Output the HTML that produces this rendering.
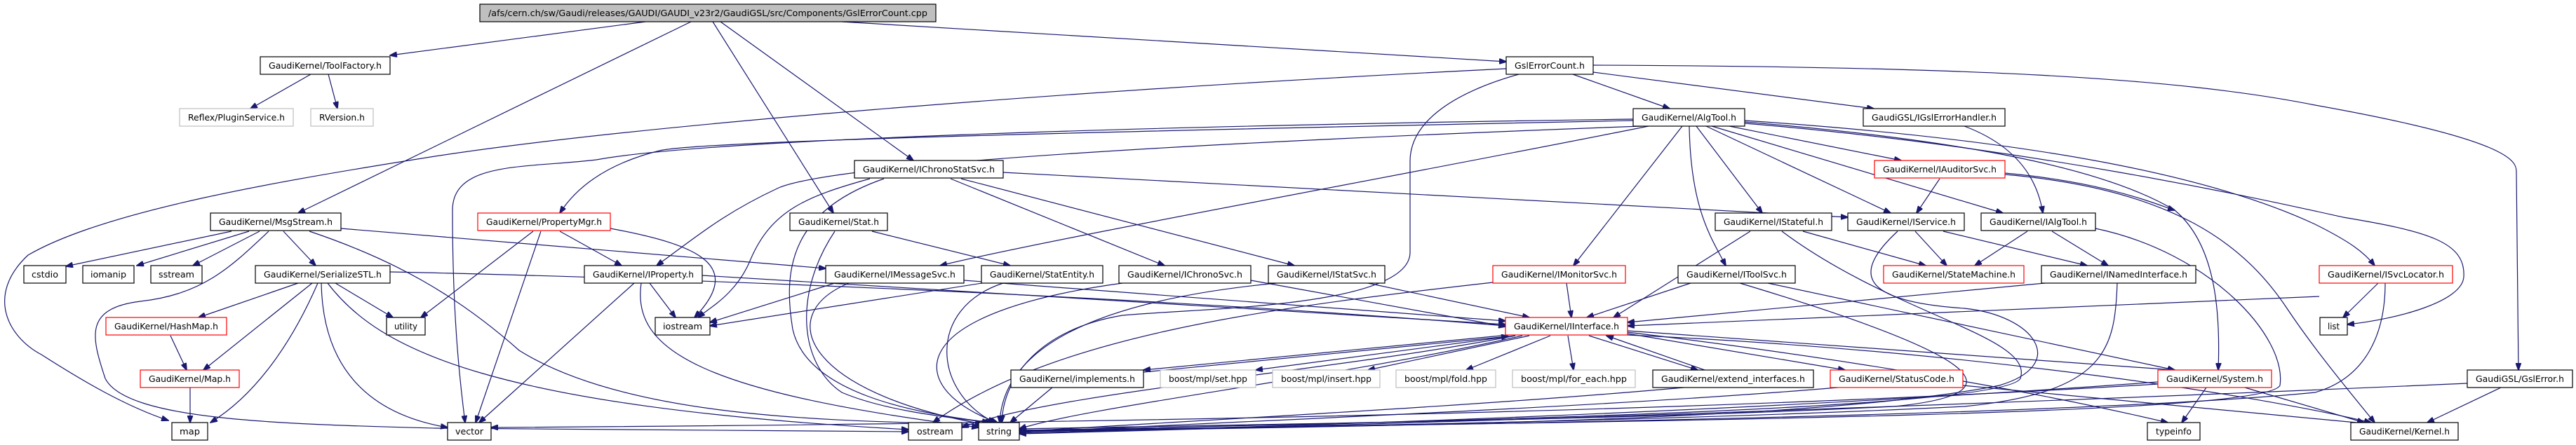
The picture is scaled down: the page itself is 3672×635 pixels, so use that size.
<!DOCTYPE html>
<html><head><meta charset="utf-8"><style>
html,body{margin:0;padding:0;background:#fff;}
svg{display:block;}
.e{fill:none;stroke:#191970;stroke-width:1.2;marker-end:url(#a);}
.n rect{fill:#fff;stroke:#000;stroke-width:1.2;}
.r rect{fill:#fff;stroke:#ff0000;stroke-width:1.2;}
.g rect{fill:#fff;stroke:#bfbfbf;stroke-width:1.2;}
.t rect{fill:#bfbfbf;stroke:#000;stroke-width:1.2;}
text{font-family:"DejaVu Sans","Liberation Sans",sans-serif;font-size:12px;fill:#000;text-anchor:middle;}
</style></head><body>
<svg width="3672" height="635" viewBox="0 0 3672 635" xmlns="http://www.w3.org/2000/svg">
<defs><marker id="a" markerUnits="userSpaceOnUse" markerWidth="11" markerHeight="8" refX="10" refY="4" orient="auto"><path d="M0,0 L11,4 L0,8 z" fill="#191970" stroke="#191970"/></marker></defs>
<g>
<path class="e" d="M920,31 L556,79"/>
<path class="e" d="M985,31 L425,304"/>
<path class="e" d="M1016,31 L1188,304"/>
<path class="e" d="M1027,31 L1302,229"/>
<path class="e" d="M1200,31 L2147,88"/>
<path class="e" d="M443,106 L357,155"/>
<path class="e" d="M468,106 L481,155"/>
<path class="e" d="M2242,106 L2380,155"/>
<path class="e" d="M2271,103 L2671,155"/>
<path class="e" d="M2271,93 C2800,95 3100,110 3300,150 C3580,200 3587,230 3587,245 L3590,528"/>
<path class="e" d="M2147,98 C1500,130 900,180 620,223 C400,258 150,300 40,364 C-20,420 10,480 59,506 C120,545 180,580 240,600"/>
<path class="e" d="M2165,106 C2080,130 2010,170 2010,230 L2010,360 C2010,440 1700,440 1600,450 C1480,470 1430,540 1428,603"/>
<path class="e" d="M2328,170 C1600,180 1000,200 850,228 C750,240 645,230 645,300 C645,450 655,540 663,603"/>
<path class="e" d="M2328,172 C1700,185 1000,200 940,215 C860,235 820,270 798,304"/>
<path class="e" d="M2340,180 C1800,200 1200,230 1110,268 C1030,305 990,340 936,379"/>
<path class="e" d="M2350,180 C2000,250 1500,340 1340,379"/>
<path class="e" d="M2398,180 L2243,379"/>
<path class="e" d="M2408,180 C2410,300 2440,340 2460,379"/>
<path class="e" d="M2418,180 L2512,304"/>
<path class="e" d="M2432,180 L2695,304"/>
<path class="e" d="M2440,180 L2855,304"/>
<path class="e" d="M2465,180 L2710,229"/>
<path class="e" d="M2487,172 C2900,200 3150,250 3300,320 C3350,345 3370,360 3385,379"/>
<path class="e" d="M2487,176 C2900,210 3250,290 3340,310 C3460,330 3515,345 3512,395 C3510,430 3420,455 3346,463"/>
<path class="e" d="M2487,174 C2800,200 3000,240 3100,300 C3160,350 3165,450 3162,528"/>
<path class="e" d="M2800,180 C2880,210 2905,260 2912,304"/>
<path class="e" d="M2765,255 L2732,304"/>
<path class="e" d="M2858,247 C3000,260 3070,290 3100,300"/>
<path class="e" d="M2858,249 C3100,270 3200,350 3260,440 C3300,500 3350,560 3385,603"/>
<path class="e" d="M1430,246 L2634,310"/>
<path class="e" d="M1355,255 L1660,379"/>
<path class="e" d="M1370,255 L1845,379"/>
<path class="e" d="M1240,255 C1150,280 1100,300 1070,370 C1050,420 1010,440 995,453"/>
<path class="e" d="M1260,255 C1130,300 1115,380 1130,470 C1150,560 1300,590 1415,603"/>
<path class="e" d="M1243,330 L1440,379"/>
<path class="e" d="M1190,330 C1130,420 1140,520 1200,560 C1270,590 1380,598 1410,603"/>
<path class="e" d="M330,330 L94,380"/>
<path class="e" d="M355,330 L195,379"/>
<path class="e" d="M370,330 L275,379"/>
<path class="e" d="M404,330 L450,379"/>
<path class="e" d="M486,326 L1177,383"/>
<path class="e" d="M441,330 C560,370 650,420 740,500 C900,600 1200,600 1400,606"/>
<path class="e" d="M383,330 C330,380 290,420 200,430 C120,440 130,480 150,540 C180,600 400,605 620,611 L1295,616"/>
<path class="e" d="M425,404 L283,453"/>
<path class="e" d="M445,404 L290,528"/>
<path class="e" d="M453,404 C420,480 370,560 300,603"/>
<path class="e" d="M478,404 L560,453"/>
<path class="e" d="M458,404 C460,520 520,590 638,610"/>
<path class="e" d="M467,404 C540,500 700,580 1295,613"/>
<path class="e" d="M556,388 C900,395 1600,420 2146,465"/>
<path class="e" d="M243,479 L266,528"/>
<path class="e" d="M271,553 L271,603"/>
<path class="e" d="M760,330 L600,453"/>
<path class="e" d="M771,330 L678,603"/>
<path class="e" d="M798,330 L886,379"/>
<path class="e" d="M870,326 C1000,350 1060,380 990,453"/>
<path class="e" d="M904,404 L683,603"/>
<path class="e" d="M926,404 L963,453"/>
<path class="e" d="M914,404 C900,500 1000,560 1395,610"/>
<path class="e" d="M1001,393 L2146,463"/>
<path class="e" d="M1190,404 L1012,460"/>
<path class="e" d="M1374,400 L2146,458"/>
<path class="e" d="M1210,404 C1100,450 1150,560 1400,605"/>
<path class="e" d="M1400,404 L1012,465"/>
<path class="e" d="M1430,404 C1320,440 1330,560 1418,603"/>
<path class="e" d="M1783,400 L2146,466"/>
<path class="e" d="M1600,404 C1265,450 1300,560 1422,603"/>
<path class="e" d="M1950,404 L2180,453"/>
<path class="e" d="M1820,404 C1550,430 1430,500 1425,603"/>
<path class="e" d="M2233,404 L2240,453"/>
<path class="e" d="M2128,403 C1800,440 1500,480 1330,603"/>
<path class="e" d="M2410,404 L2262,453"/>
<path class="e" d="M2520,404 L3100,528"/>
<path class="e" d="M2480,404 C2800,500 2900,560 2700,580 C2300,600 1800,605 1453,612"/>
<path class="e" d="M2495,330 L2300,453"/>
<path class="e" d="M2570,330 L2745,379"/>
<path class="e" d="M2540,330 C2700,450 2900,480 2880,540 C2860,580 2200,600 1453,614"/>
<path class="e" d="M2730,330 L2775,379"/>
<path class="e" d="M2770,330 L2975,379"/>
<path class="e" d="M2705,330 C2640,390 2650,430 2800,440 C2900,450 2950,520 2850,550 C2600,600 2000,608 1453,616"/>
<path class="e" d="M2890,330 L2815,379"/>
<path class="e" d="M2925,330 L3005,379"/>
<path class="e" d="M2987,326 C3150,360 3260,480 3250,550 C3230,590 2500,600 1453,614"/>
<path class="e" d="M2915,404 L2320,460"/>
<path class="e" d="M3018,404 C3015,500 3000,560 2800,580 C2400,600 1900,608 1453,616"/>
<path class="e" d="M3390,404 L3340,453"/>
<path class="e" d="M3306,423 L2320,465"/>
<path class="e" d="M3400,404 C3400,480 3370,540 3300,560 C3000,590 2200,605 1453,615"/>
<path class="e" d="M2150,478 L1630,528"/>
<path class="e" d="M1630,531 L2150,480"/>
<path class="e" d="M2160,479 L1790,528"/>
<path class="e" d="M2180,479 L1950,528"/>
<path class="e" d="M2210,479 L2090,528"/>
<path class="e" d="M2235,479 L2243,528"/>
<path class="e" d="M2265,479 L2420,528"/>
<path class="e" d="M2430,528 L2290,479"/>
<path class="e" d="M2320,476 L2630,528"/>
<path class="e" d="M2320,472 L3100,528"/>
<path class="e" d="M2320,474 C2700,520 2950,570 3090,603"/>
<path class="e" d="M2320,478 C2800,500 3200,560 3380,603"/>
<path class="e" d="M2160,479 C1900,530 1500,560 1371,610"/>
<path class="e" d="M2170,479 C1900,540 1550,580 1453,612"/>
<path class="e" d="M2798,550 L3380,605"/>
<path class="e" d="M2620,553 C2300,580 1800,600 1453,617"/>
<path class="e" d="M3145,553 L3110,603"/>
<path class="e" d="M3200,553 L3370,603"/>
<path class="e" d="M3076,545 C2600,580 2000,605 1453,618"/>
<path class="e" d="M3076,548 C2400,590 1500,605 700,610"/>
<path class="e" d="M3565,553 L3460,603"/>
<path class="e" d="M3517,547 C3000,570 2200,600 1453,619"/>
<path class="e" d="M2400,553 C2100,580 1700,600 1453,616"/>
<path class="e" d="M1500,553 L1440,603"/>
</g>
<g class="t"><rect x="684" y="6" width="650" height="25"/><text x="1009" y="23" textLength="626" lengthAdjust="spacingAndGlyphs">/afs/cern.ch/sw/Gaudi/releases/GAUDI/GAUDI_v23r2/GaudiGSL/src/Components/GslErrorCount.cpp</text></g>
<g class="n"><rect x="371" y="81" width="185" height="25"/><text x="463.5" y="98" textLength="161" lengthAdjust="spacingAndGlyphs">GaudiKernel/ToolFactory.h</text></g>
<g class="n"><rect x="2147" y="81" width="124" height="25"/><text x="2209" y="98" textLength="100" lengthAdjust="spacingAndGlyphs">GslErrorCount.h</text></g>
<g class="g"><rect x="256" y="155" width="162" height="25"/><text x="337" y="172" textLength="138" lengthAdjust="spacingAndGlyphs">Reflex/PluginService.h</text></g>
<g class="g"><rect x="443" y="155" width="89" height="25"/><text x="487.5" y="172" textLength="65" lengthAdjust="spacingAndGlyphs">RVersion.h</text></g>
<g class="n"><rect x="2328" y="155" width="159" height="25"/><text x="2407.5" y="172" textLength="135" lengthAdjust="spacingAndGlyphs">GaudiKernel/AlgTool.h</text></g>
<g class="n"><rect x="2656" y="155" width="202" height="25"/><text x="2757" y="172" textLength="178" lengthAdjust="spacingAndGlyphs">GaudiGSL/IGslErrorHandler.h</text></g>
<g class="n"><rect x="1218" y="229" width="212" height="25"/><text x="1324" y="246" textLength="188" lengthAdjust="spacingAndGlyphs">GaudiKernel/IChronoStatSvc.h</text></g>
<g class="r"><rect x="2672" y="229" width="186" height="25"/><text x="2765" y="246" textLength="162" lengthAdjust="spacingAndGlyphs">GaudiKernel/IAuditorSvc.h</text></g>
<g class="n"><rect x="300" y="304" width="186" height="25"/><text x="393" y="321" textLength="162" lengthAdjust="spacingAndGlyphs">GaudiKernel/MsgStream.h</text></g>
<g class="r"><rect x="681" y="304" width="189" height="25"/><text x="775.5" y="321" textLength="165" lengthAdjust="spacingAndGlyphs">GaudiKernel/PropertyMgr.h</text></g>
<g class="n"><rect x="1126" y="304" width="139" height="25"/><text x="1195.5" y="321" textLength="115" lengthAdjust="spacingAndGlyphs">GaudiKernel/Stat.h</text></g>
<g class="n"><rect x="2445" y="304" width="166" height="25"/><text x="2528" y="321" textLength="142" lengthAdjust="spacingAndGlyphs">GaudiKernel/IStateful.h</text></g>
<g class="n"><rect x="2634" y="304" width="166" height="25"/><text x="2717" y="321" textLength="142" lengthAdjust="spacingAndGlyphs">GaudiKernel/IService.h</text></g>
<g class="n"><rect x="2824" y="304" width="163" height="25"/><text x="2905.5" y="321" textLength="139" lengthAdjust="spacingAndGlyphs">GaudiKernel/IAlgTool.h</text></g>
<g class="n"><rect x="34" y="379" width="60" height="25"/><text x="64" y="396" textLength="38" lengthAdjust="spacingAndGlyphs">cstdio</text></g>
<g class="n"><rect x="118" y="379" width="73" height="25"/><text x="154.5" y="396" textLength="51" lengthAdjust="spacingAndGlyphs">iomanip</text></g>
<g class="n"><rect x="215" y="379" width="73" height="25"/><text x="251.5" y="396" textLength="51" lengthAdjust="spacingAndGlyphs">sstream</text></g>
<g class="n"><rect x="364" y="379" width="192" height="25"/><text x="460" y="396" textLength="168" lengthAdjust="spacingAndGlyphs">GaudiKernel/SerializeSTL.h</text></g>
<g class="n"><rect x="833" y="379" width="168" height="25"/><text x="917" y="396" textLength="144" lengthAdjust="spacingAndGlyphs">GaudiKernel/IProperty.h</text></g>
<g class="n"><rect x="1177" y="379" width="197" height="25"/><text x="1275.5" y="396" textLength="173" lengthAdjust="spacingAndGlyphs">GaudiKernel/IMessageSvc.h</text></g>
<g class="n"><rect x="1399" y="379" width="173" height="25"/><text x="1485.5" y="396" textLength="149" lengthAdjust="spacingAndGlyphs">GaudiKernel/StatEntity.h</text></g>
<g class="n"><rect x="1595" y="379" width="188" height="25"/><text x="1689" y="396" textLength="164" lengthAdjust="spacingAndGlyphs">GaudiKernel/IChronoSvc.h</text></g>
<g class="n"><rect x="1808" y="379" width="166" height="25"/><text x="1891" y="396" textLength="142" lengthAdjust="spacingAndGlyphs">GaudiKernel/IStatSvc.h</text></g>
<g class="r"><rect x="2128" y="379" width="189" height="25"/><text x="2222.5" y="396" textLength="165" lengthAdjust="spacingAndGlyphs">GaudiKernel/IMonitorSvc.h</text></g>
<g class="n"><rect x="2392" y="379" width="167" height="25"/><text x="2475.5" y="396" textLength="143" lengthAdjust="spacingAndGlyphs">GaudiKernel/IToolSvc.h</text></g>
<g class="r"><rect x="2685" y="379" width="200" height="25"/><text x="2785" y="396" textLength="176" lengthAdjust="spacingAndGlyphs">GaudiKernel/StateMachine.h</text></g>
<g class="n"><rect x="2910" y="379" width="220" height="25"/><text x="3020" y="396" textLength="196" lengthAdjust="spacingAndGlyphs">GaudiKernel/INamedInterface.h</text></g>
<g class="r"><rect x="3306" y="379" width="190" height="25"/><text x="3401" y="396" textLength="166" lengthAdjust="spacingAndGlyphs">GaudiKernel/ISvcLocator.h</text></g>
<g class="r"><rect x="151" y="453" width="172" height="25"/><text x="237" y="470" textLength="148" lengthAdjust="spacingAndGlyphs">GaudiKernel/HashMap.h</text></g>
<g class="n"><rect x="551" y="453" width="55" height="25"/><text x="578.5" y="470" textLength="33" lengthAdjust="spacingAndGlyphs">utility</text></g>
<g class="n"><rect x="934" y="453" width="78" height="25"/><text x="973" y="470" textLength="56" lengthAdjust="spacingAndGlyphs">iostream</text></g>
<g class="r"><rect x="2146" y="453" width="174" height="25"/><text x="2233" y="470" textLength="150" lengthAdjust="spacingAndGlyphs">GaudiKernel/IInterface.h</text></g>
<g class="n"><rect x="3307" y="453" width="39" height="25"/><text x="3326.5" y="470" textLength="17" lengthAdjust="spacingAndGlyphs">list</text></g>
<g class="r"><rect x="200" y="528" width="141" height="25"/><text x="270.5" y="545" textLength="117" lengthAdjust="spacingAndGlyphs">GaudiKernel/Map.h</text></g>
<g class="n"><rect x="1441" y="528" width="189" height="25"/><text x="1535.5" y="545" textLength="165" lengthAdjust="spacingAndGlyphs">GaudiKernel/implements.h</text></g>
<g class="g"><rect x="1654" y="528" width="136" height="25"/><text x="1722" y="545" textLength="112" lengthAdjust="spacingAndGlyphs">boost/mpl/set.hpp</text></g>
<g class="g"><rect x="1814" y="528" width="153" height="25"/><text x="1890.5" y="545" textLength="129" lengthAdjust="spacingAndGlyphs">boost/mpl/insert.hpp</text></g>
<g class="g"><rect x="1990" y="528" width="142" height="25"/><text x="2061" y="545" textLength="118" lengthAdjust="spacingAndGlyphs">boost/mpl/fold.hpp</text></g>
<g class="g"><rect x="2156" y="528" width="175" height="25"/><text x="2243.5" y="545" textLength="151" lengthAdjust="spacingAndGlyphs">boost/mpl/for_each.hpp</text></g>
<g class="n"><rect x="2356" y="528" width="229" height="25"/><text x="2470.5" y="545" textLength="205" lengthAdjust="spacingAndGlyphs">GaudiKernel/extend_interfaces.h</text></g>
<g class="r"><rect x="2609" y="528" width="189" height="25"/><text x="2703.5" y="545" textLength="165" lengthAdjust="spacingAndGlyphs">GaudiKernel/StatusCode.h</text></g>
<g class="r"><rect x="3076" y="528" width="162" height="25"/><text x="3157" y="545" textLength="138" lengthAdjust="spacingAndGlyphs">GaudiKernel/System.h</text></g>
<g class="n"><rect x="3517" y="528" width="150" height="25"/><text x="3592" y="545" textLength="126" lengthAdjust="spacingAndGlyphs">GaudiGSL/GslError.h</text></g>
<g class="n"><rect x="245" y="603" width="51" height="25"/><text x="270.5" y="620" textLength="29" lengthAdjust="spacingAndGlyphs">map</text></g>
<g class="n"><rect x="638" y="603" width="62" height="25"/><text x="669" y="620" textLength="40" lengthAdjust="spacingAndGlyphs">vector</text></g>
<g class="n"><rect x="1295" y="603" width="76" height="25"/><text x="1333" y="620" textLength="52" lengthAdjust="spacingAndGlyphs">ostream</text></g>
<g class="n"><rect x="1395" y="603" width="58" height="25"/><text x="1424" y="620" textLength="36" lengthAdjust="spacingAndGlyphs">string</text></g>
<g class="n"><rect x="3061" y="603" width="75" height="25"/><text x="3098.5" y="620" textLength="51" lengthAdjust="spacingAndGlyphs">typeinfo</text></g>
<g class="n"><rect x="3351" y="603" width="153" height="25"/><text x="3427.5" y="620" textLength="129" lengthAdjust="spacingAndGlyphs">GaudiKernel/Kernel.h</text></g>
</svg>
</body></html>
